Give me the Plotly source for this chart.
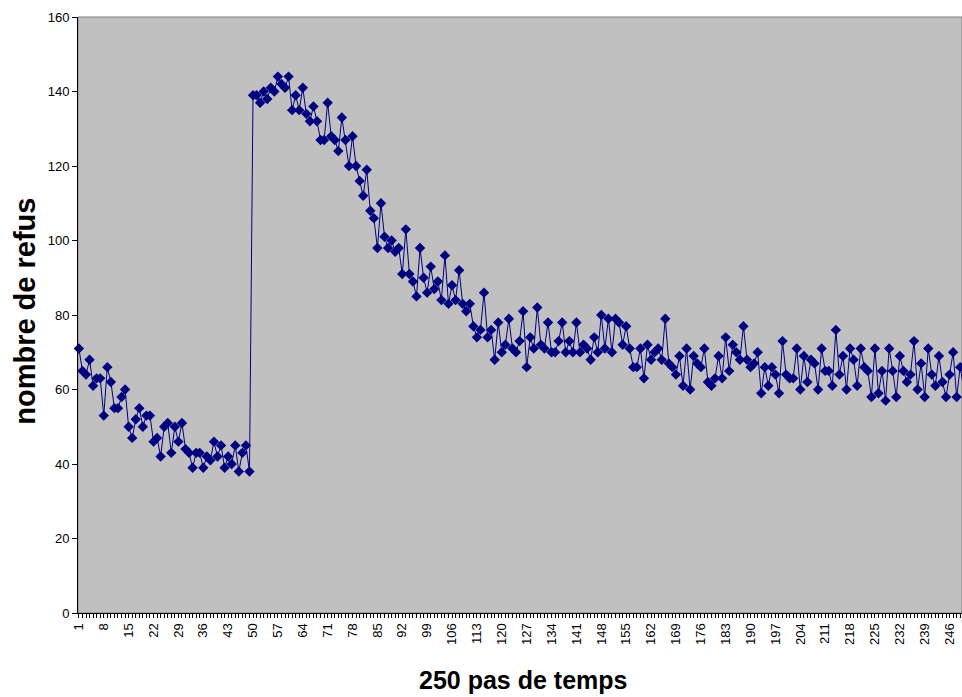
import plotly.graph_objects as go

# ---- data -------------------------------------------------------------
steps = list(range(1, 251))

refus = [
    71, 65, 64, 68, 61, 63, 63, 53, 66, 62,
    55, 55, 58, 60, 50, 47, 52, 55, 50, 53,
    53, 46, 47, 42, 50, 51, 43, 50, 46, 51,
    44, 43, 39, 43, 43, 39, 42, 41, 46, 42,
    45, 39, 42, 40, 45, 38, 43, 45, 38, 139,
    139, 137, 140, 138, 141, 140, 144, 142, 141, 144,
    135, 139, 135, 141, 134, 132, 136, 132, 127, 127,
    137, 128, 127, 124, 133, 127, 120, 128, 120, 116,
    112, 119, 108, 106, 98, 110, 101, 98, 100, 97,
    98, 91, 103, 91, 89, 85, 98, 90, 86, 93,
    87, 89, 84, 96, 83, 88, 84, 92, 83, 81,
    83, 77, 74, 76, 86, 74, 76, 68, 78, 70,
    72, 79, 71, 70, 73, 81, 66, 74, 71, 82,
    72, 71, 78, 70, 70, 73, 78, 70, 73, 70,
    78, 70, 72, 71, 68, 74, 70, 80, 71, 79,
    70, 79, 78, 72, 77, 71, 66, 66, 71, 63,
    72, 68, 70, 71, 68, 79, 67, 66, 64, 69,
    61, 71, 60, 69, 67, 66, 71, 62, 61, 63,
    69, 63, 74, 65, 72, 70, 68, 77, 68, 66,
    67, 70, 59, 66, 61, 66, 64, 59, 73, 64,
    63, 63, 71, 60, 69, 62, 68, 67, 60, 71,
    65, 65, 61, 76, 64, 69, 60, 71, 68, 61,
    71, 66, 65, 58, 71, 59, 65, 57, 71, 65,
    58, 69, 65, 62, 64, 73, 60, 67, 58, 71,
    64, 61, 69, 62, 58, 64, 70, 58, 66, 60,
]

x_tick_vals = list(range(1, 251, 7))
x_tick_text = [str(v) for v in x_tick_vals]
y_tick_vals = [0, 20, 40, 60, 80, 100, 120, 140, 160]

x_title = "250 pas de temps"
y_title = "nombre de refus"

# ---- figure -----------------------------------------------------------
fig = go.Figure(
    go.Scatter(
        x=steps,
        y=refus,
        mode="lines+markers",
        line=dict(color="#000080", width=1),
        marker=dict(symbol="diamond", size=8, color="#000080"),
        cliponaxis=False,
        hoverinfo="x+y",
    )
)

fig.update_layout(
    width=962,
    height=697,
    margin=dict(l=78, r=0, t=17, b=84),
    plot_bgcolor="#C0C0C0",
    paper_bgcolor="white",
    showlegend=False,
    font=dict(family="Liberation Sans, Arial, sans-serif", size=13, color="black"),
    shapes=[
        dict(type="rect", xref="paper", yref="paper", x0=0, x1=1, y0=0, y1=1,
             line=dict(color="#808080", width=1), layer="below"),
    ],
    annotations=[
        dict(text=f"<b>{x_title}</b>", xref="paper", yref="paper",
             x=0.503, y=-0.112, xanchor="center", yanchor="middle",
             showarrow=False, font=dict(size=25, color="black")),
        dict(text=f"<b>{y_title}</b>", xref="paper", yref="paper",
             x=-0.06, y=0.507, xanchor="center", yanchor="middle",
             textangle=-90, showarrow=False, font=dict(size=29, color="black")),
    ],
)

fig.update_xaxes(
    range=[0.75, 249.5],
    tickmode="array",
    tickvals=x_tick_vals,
    ticktext=x_tick_text,
    tickangle=-90,
    ticks="outside",
    ticklen=4,
    tickcolor="black",
    showline=True,
    linecolor="black",
    linewidth=1,
    showgrid=False,
    zeroline=False,
    minor=dict(tickmode="linear", tick0=1, dtick=1, ticks="outside",
               ticklen=4, tickcolor="black", showgrid=False),
)

fig.update_yaxes(
    range=[0, 160],
    tickmode="array",
    tickvals=y_tick_vals,
    ticks="outside",
    ticklen=5,
    tickcolor="black",
    showline=True,
    linecolor="black",
    linewidth=1,
    showgrid=False,
    zeroline=False,
)

fig.write_html(
    "out.html",
    config={"displayModeBar": False},
    post_script="document.body.style.margin='0';",
)
